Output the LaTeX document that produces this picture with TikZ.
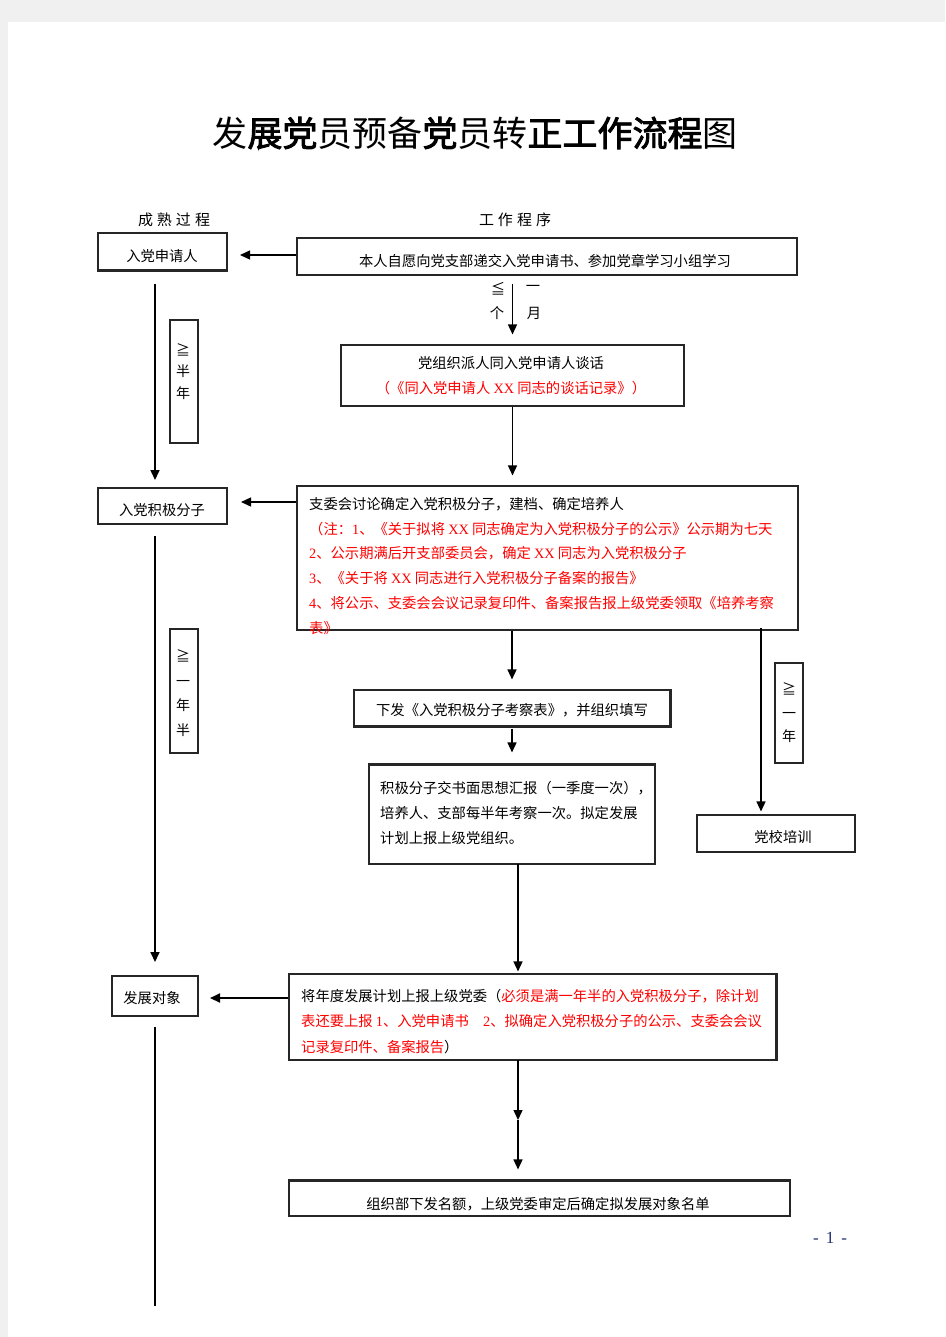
\documentclass[tikz,border=0pt]{standalone}
\usepackage{fontspec}
\setmainfont{Noto Sans CJK SC}
\newfontfamily\cjkb[FakeBold=2.5]{Noto Sans CJK SC}
\newfontfamily\lat{Liberation Serif}
\usetikzlibrary{arrows.meta,calc}
\definecolor{bggray}{HTML}{F0F0F0}
\definecolor{redtxt}{HTML}{FF0000}
\definecolor{pgnum}{HTML}{1F2F6F}
\definecolor{boxline}{HTML}{262626}
\begin{document}
\begin{tikzpicture}[x=1pt,y=-1pt,
  box/.style={draw=boxline, line width=1.1pt, inner sep=0pt},
  txt/.style={font=\fontsize{14.3pt}{25pt}\selectfont, inner sep=0pt},
  ltxt/.style={txt, anchor=base west},
  rtxt/.style={ltxt, text=redtxt},
  arr/.style={line width=1.4pt, -{Triangle[length=10pt,width=9pt]}},
  ln/.style={line width=1.7pt},
  thk/.style={draw=boxline, line width=2.4pt},
]
\useasboundingbox (0,0) rectangle (945,1337);
\fill[bggray] (0,0) rectangle (945,1337);
\fill[white] (8,22) rectangle (945,1337);

% title and headers
\node[font=\fontsize{35pt}{35pt}\selectfont, inner sep=0pt] (title) at (475,133)
  {发{\cjkb 展党}员预备{\cjkb 党}员转{\cjkb 正工作流程}图};
\node[font=\fontsize{15pt}{15pt}\selectfont, inner sep=0pt] (h1) at (174,220)
  {成\hspace{4pt}熟\hspace{4pt}过\hspace{4pt}程};
\node[font=\fontsize{15pt}{15pt}\selectfont, inner sep=0pt] (h2) at (515,220)
  {工\hspace{4pt}作\hspace{4pt}程\hspace{4pt}序};

% boxes
\node[box, minimum width=129pt, minimum height=37pt] (A) at (162.5,251.5) {};
\draw[thk] (A.south west) -- (A.south east);
\node[txt] (At) at (162,256) {入党申请人};

\node[box, minimum width=500pt, minimum height=37pt] (B) at (547,256.5) {};
\node[txt] (Bt) at (545,261) {本人自愿向党支部递交入党申请书、参加党章学习小组学习};

\node[box, minimum width=343pt, minimum height=61pt] (C) at (512.5,375.5) {};
\node[txt] (C1) at (511,363) {党组织派人同入党申请人谈话};
\node[txt, text=redtxt] (C2) at (511,388) {（《同入党申请人 {\lat XX} 同志的谈话记录》）};

\node[box, minimum width=129pt, minimum height=36pt] (D) at (162.5,506) {};
\node[txt] (Dt) at (162,510) {入党积极分子};

\node[box, minimum width=501pt, minimum height=144pt] (E) at (547.5,558) {};
\node[ltxt] (E1) at (309,509.3) {支委会讨论确定入党积极分子，建档、确定培养人};
\node[rtxt] (E2) at (309,534.1) {（注：{\lat 1}、《关于拟将 {\lat XX} 同志确定为入党积极分子的公示》公示期为七天};
\node[rtxt] (E3) at (309,558.9) {{\lat 2}、公示期满后开支部委员会，确定 {\lat XX} 同志为入党积极分子};
\node[rtxt] (E4) at (309,583.7) {{\lat 3}、《关于将 {\lat XX} 同志进行入党积极分子备案的报告》};
\node[rtxt] (E5) at (309,608.5) {{\lat 4}、将公示、支委会会议记录复印件、备案报告报上级党委领取《培养考察};
\node[rtxt] (E6) at (309,633.3) {表》};

\node[box, minimum width=316pt, minimum height=36pt] (F) at (512,708) {};
\draw[thk] (F.north east) -- (F.south east) -- (F.south west);
\node[txt] (Ft) at (512,710) {下发《入党积极分子考察表》，并组织填写};

\node[box, minimum width=286pt, minimum height=99pt] (G) at (512,814.5) {};
\draw[thk] (G.north west) -- (G.north east);
\node[ltxt] (G1) at (380,793.3) {积极分子交书面思想汇报（一季度一次），};
\node[ltxt] (G2) at (380,818.3) {培养人、支部每半年考察一次。拟定发展};
\node[ltxt] (G3) at (380,843.3) {计划上报上级党组织。};

\node[box, minimum width=158pt, minimum height=37pt] (H) at (776,833.5) {};
\node[txt] (Ht) at (783,837) {党校培训};

\node[box, minimum width=487pt, minimum height=86pt] (I) at (532.5,1017) {};
\draw[thk] (I.north east) -- (I.south east);
\node[ltxt] (I1) at (301,1001.3) {将年度发展计划上报上级党委（\textcolor{redtxt}{必须是满一年半的入党积极分子，除计划}};
\node[rtxt] (I2) at (301,1026.3) {表还要上报 {\lat 1}、入党申请书\quad{\lat 2}、拟确定入党积极分子的公示、支委会会议};
\node[ltxt] (I3) at (301,1052.3) {\textcolor{redtxt}{记录复印件、备案报告}）};

\node[box, minimum width=86pt, minimum height=40pt] (J) at (155,996) {};
\node[txt] (Jt) at (152,998) {发展对象};

\node[box, minimum width=501pt, minimum height=35pt] (K) at (539.5,1198.5) {};
\draw[thk] (K.north west) -- (K.north east);
\node[txt] (Kt) at (538,1204) {组织部下发名额，上级党委审定后确定拟发展对象名单};

% vertical duration labels
\node[box, minimum width=28pt, minimum height=123pt] (V1) at (184,381.5) {};
\node[font=\fontsize{14pt}{21.5pt}\selectfont, align=center, inner sep=0pt] (V1t) at (183,371.5) {≧\\半\\年};
\node[box, minimum width=28pt, minimum height=124pt] (V2) at (184,691) {};
\node[font=\fontsize{14pt}{24.7pt}\selectfont, align=center, inner sep=0pt] (V2t) at (183,693) {≧\\一\\年\\半};
\node[box, minimum width=28pt, minimum height=100pt] (V3) at (789,713) {};
\node[font=\fontsize{14pt}{23.5pt}\selectfont, align=center, inner sep=0pt] (V3t) at (789,713) {≧\\一\\年};

% labels beside first arrow
\node[txt] (m1) at (498,289) {≦};
\node[txt] (m2) at (497,313) {个};
\node[txt] (m3) at (533,288) {一};
\node[txt] (m4) at (534,313) {月};

% connectors
\coordinate (Aend) at (240,255);
\draw[arr] (B.west |- Aend) -- (Aend);
\draw[arr, shorten <=8pt, shorten >=10pt] (B.south -| C.north) -- (C.north);
\draw[arr, shorten >=10pt] (C.south) -- (C.south |- E.north);
\coordinate (Dend) at (241,502);
\draw[arr] (E.west |- Dend) -- (Dend);
\coordinate (L1a) at (155,284);
\coordinate (L1b) at (155,480);
\draw[arr, ln] (L1a) -- (L1b);
\coordinate (L2a) at (155,536);
\coordinate (L2b) at (155,962);
\draw[arr, ln] (L2a) -- (L2b);
\draw[arr, shorten >=10pt] (F.north |- E.south) -- (F.north);
\draw[arr, shorten <=2pt, shorten >=12pt] (F.south) -- (G.north);
\coordinate (R1) at (761,628);
\draw[arr, shorten >=3pt] (R1) -- (R1 |- H.north);
\coordinate (Gb) at (518,864);
\draw[arr, shorten >=2pt] (Gb) -- (Gb |- I.north);
\coordinate (Jend) at (210,998);
\draw[arr, line width=2pt] (I.west |- Jend) -- (Jend);
\coordinate (L3a) at (155,1027);
\coordinate (L3b) at (155,1306);
\draw[ln] (L3a) -- (L3b);
\coordinate (Ib) at (518,1060);
\coordinate (mid) at (518,1120);
\draw[arr] (Ib) -- (mid);
\draw[arr, shorten >=11pt] (mid) -- (mid |- K.north);

% page number
\node[font=\lat\fontsize{17pt}{17pt}\selectfont, text=pgnum, inner sep=0pt] (pg) at (830,1238) {-\hspace{7pt}1\hspace{7pt}-};
\end{tikzpicture}
\end{document}
